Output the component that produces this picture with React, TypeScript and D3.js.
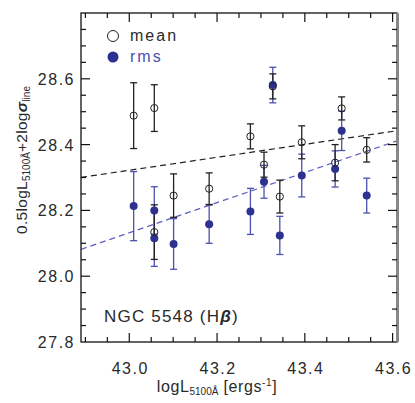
import React from 'react';
import { scaleLinear, range, line } from 'd3';

// luminosity and the two line-width measures (mean / rms spectra)
const logL = [43.01, 43.057, 43.057, 43.101, 43.182, 43.276, 43.307, 43.327, 43.343, 43.393, 43.469, 43.484, 43.541];
const meanVal = [28.488, 28.511, 28.134, 28.245, 28.266, 28.425, 28.339, 28.577, 28.242, 28.407, 28.345, 28.510, 28.384];
const meanErr = [0.100, 0.071, 0.083, 0.066, 0.048, 0.038, 0.038, 0.038, 0.050, 0.050, 0.055, 0.035, 0.037];
const rmsVal = [28.213, 28.200, 28.115, 28.098, 28.158, 28.197, 28.287, 28.581, 28.124, 28.306, 28.326, 28.442, 28.245];
const rmsErr = [0.105, 0.072, 0.085, 0.077, 0.058, 0.070, 0.050, 0.054, 0.058, 0.065, 0.055, 0.060, 0.053];

// linear fits: value at logL = 43.0 and slope
const meanFit = [28.322, 0.197];
const rmsFit = [28.132, 0.458];

const xTicks = [43.0, 43.2, 43.4, 43.6];
const yTicks = [27.8, 28.0, 28.2, 28.4, 28.6];

const W = 415, H = 403;
const left = 81, right = 397, top = 13, bottom = 342;
const BLUE = '#2d3190';
const BLUE_BAR = '#4c51ad';
const FONT = "'Liberation Sans', Arial, sans-serif";
const INK = '#2a2a2a';

function App() {
  const x = scaleLinear().domain([42.89, 43.61]).range([left, right]);
  const y = scaleLinear().domain([27.8, 28.8]).range([bottom, top]);

  const xMinor = range(42.9, 43.61, 0.05).map(v => +v.toFixed(2));
  const yMinor = range(27.85, 28.8, 0.05).map(v => +v.toFixed(2));

  const fitLine = (fit: number[]) =>
    line<number>().x(v => x(v)).y(v => y(fit[0] + fit[1] * (v - 43.0)))(x.domain());

  const errBar = (i: number, val: number[], err: number[], color: string, key: string) => {
    const cx = x(logL[i]);
    const y1 = y(val[i] + err[i]);
    const y2 = y(val[i] - err[i]);
    return (
      <g key={key} stroke={color} strokeWidth={1.3}>
        <line x1={cx} x2={cx} y1={y1} y2={y2} />
        <line x1={cx - 3.5} x2={cx + 3.5} y1={y1} y2={y1} />
        <line x1={cx - 3.5} x2={cx + 3.5} y1={y2} y2={y2} />
      </g>
    );
  };

  return (
    <svg width={W} height={H} style={{ position: 'absolute', left: 0, top: 0, background: '#fff' }}>
      <defs>
        <clipPath id="plot">
          <rect x={left} y={top} width={right - left} height={bottom - top} />
        </clipPath>
      </defs>

      {/* fits */}
      <g clipPath="url(#plot)" fill="none" strokeWidth={1.2}>
        <path d={fitLine(meanFit) || ''} stroke="#222" strokeDasharray="6,4" />
        <path d={fitLine(rmsFit) || ''} stroke="#5a5fc0" strokeDasharray="6,4" />
      </g>

      {/* error bars */}
      {logL.map((_, i) => errBar(i, rmsVal, rmsErr, BLUE_BAR, 'rb' + i))}
      {logL.map((_, i) => errBar(i, meanVal, meanErr, '#222', 'mb' + i))}

      {/* points */}
      {logL.map((v, i) => (
        <circle key={'r' + i} cx={x(v)} cy={y(rmsVal[i])} r={4} fill={BLUE} />
      ))}
      {logL.map((v, i) => (
        <circle key={'m' + i} cx={x(v)} cy={y(meanVal[i])} r={3.6} fill="none" stroke="#222" strokeWidth={1} />
      ))}

      {/* frame */}
      <rect x={left} y={top} width={right - left} height={bottom - top} fill="none" stroke="#111" strokeWidth={1.3} />
      <line x1={right + 0.5} x2={right + 0.5} y1={top} y2={bottom} stroke="#888" strokeWidth={3} />

      {/* x ticks */}
      {xMinor.map(v => {
        const major = xTicks.some(t => Math.abs(t - v) < 1e-6);
        const len = major ? 9 : 5;
        return (
          <g key={'xt' + v} stroke="#111" strokeWidth={1.2}>
            <line x1={x(v)} x2={x(v)} y1={bottom} y2={bottom - len} />
            <line x1={x(v)} x2={x(v)} y1={top} y2={top + len} />
          </g>
        );
      })}
      {/* y ticks */}
      {yMinor.map(v => {
        const major = yTicks.some(t => Math.abs(t - v) < 1e-6);
        const len = major ? 9 : 5;
        return (
          <g key={'yt' + v} stroke="#111" strokeWidth={1.2}>
            <line x1={left} x2={left + len} y1={y(v)} y2={y(v)} />
            <line x1={right} x2={right - len} y1={y(v)} y2={y(v)} />
          </g>
        );
      })}

      {/* tick labels */}
      <g fontFamily={FONT} fontSize={16} fill={INK} letterSpacing={1.5}>
        {xTicks.map(t => (
          <text key={'xl' + t} x={x(t) + 1} y={374} textAnchor="middle">{t.toFixed(1)}</text>
        ))}
        {yTicks.map(t => (
          <text key={'yl' + t} x={75} y={y(t) + 6} textAnchor="end">{t.toFixed(1)}</text>
        ))}
      </g>

      {/* axis titles */}
      <text x={217} y={392} textAnchor="middle" fontFamily={FONT} fontSize={16} fill={INK} letterSpacing={0.6}>
        logL<tspan fontSize={10} dy={3} letterSpacing={0}>5100Å</tspan>
        <tspan dy={-3}> [ergs</tspan><tspan fontSize={10} dy={-6}>-1</tspan><tspan dy={6}>]</tspan>
      </text>
      <text transform="translate(27,160) rotate(-90)" textAnchor="middle" fontFamily={FONT} fontSize={15.5} fill={INK} letterSpacing={0.3}>
        0.5logL<tspan fontSize={10} dy={3} letterSpacing={0}>5100Å</tspan>
        <tspan dy={-3}>+2log</tspan><tspan fontWeight="bold" fontStyle="italic">σ</tspan>
        <tspan fontSize={10} dy={3} letterSpacing={0}>line</tspan>
      </text>

      {/* legend */}
      <circle cx={113} cy={36} r={5.5} fill="none" stroke="#222" strokeWidth={1} />
      <text x={130} y={41} fontFamily={FONT} fontSize={16} fill={INK} letterSpacing={2}>mean</text>
      <circle cx={113} cy={57} r={5.5} fill={BLUE} />
      <text x={130} y={62} fontFamily={FONT} fontSize={16} fill="#4b4fb0" letterSpacing={2}>rms</text>

      {/* annotation */}
      <text x={104} y={322} fontFamily={FONT} fontSize={17} fill={INK} letterSpacing={1.2}>
        NGC 5548 (H<tspan fontWeight="bold" fontStyle="italic">β</tspan>)
      </text>
    </svg>
  );
}

export default App;
